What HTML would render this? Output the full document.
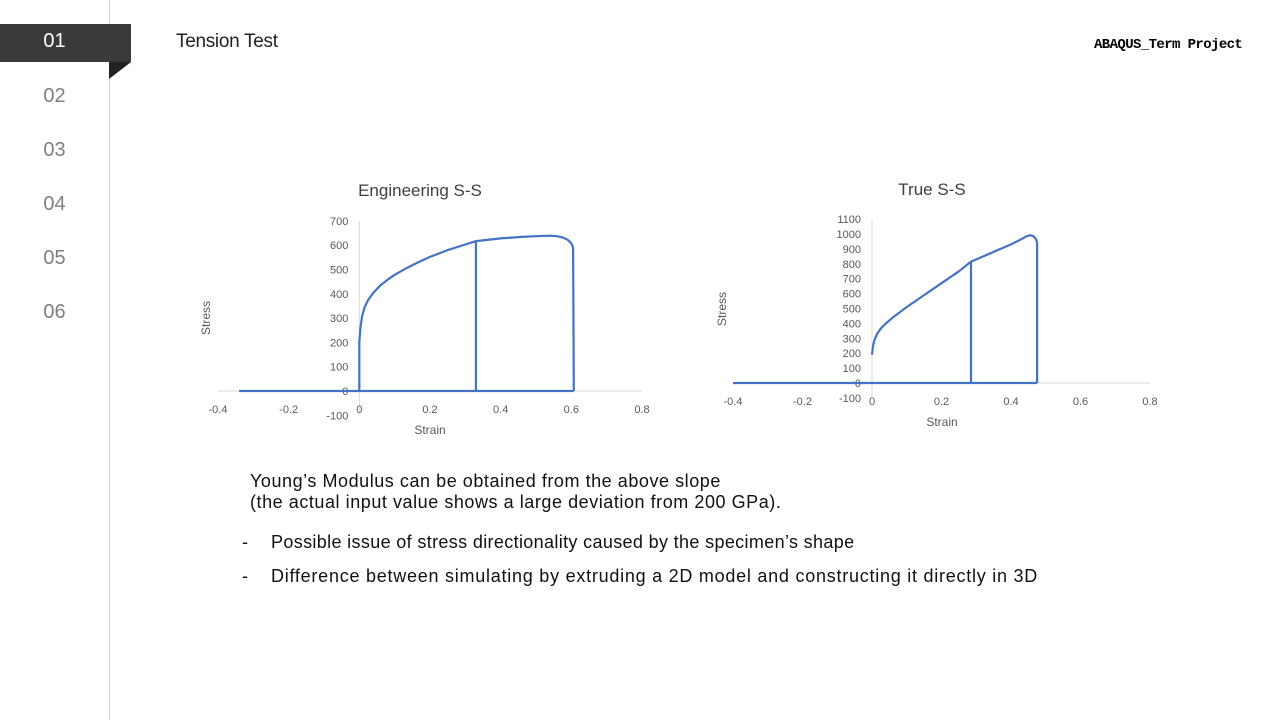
<!DOCTYPE html>
<html><head><meta charset="utf-8"><style>
body{margin:0;width:1280px;height:720px;background:#fff;position:relative;overflow:hidden;font-family:"Liberation Sans","Noto Sans CJK KR",sans-serif}
.nav{position:absolute;left:0;width:109px;text-align:center;font-size:20px;color:#7f7f7f}
.t{position:absolute;color:#000}
</style></head><body>
<div style="position:absolute;left:109px;top:0;width:1px;height:720px;background:#d9d9d9"></div>
<div style="position:absolute;left:0;top:24px;width:131px;height:38px;background:#3a3a3a"></div>
<svg style="position:absolute;left:0;top:0" width="140" height="90"><polygon points="109,62 131,62 109,79" fill="#222"/></svg>
<div class="nav" style="top:30px;color:#fff">01</div>
<div class="nav" style="top:85px">02</div>
<div class="nav" style="top:139px">03</div>
<div class="nav" style="top:193px">04</div>
<div class="nav" style="top:247px">05</div>
<div class="nav" style="top:301px">06</div>
<div class="t" style="left:176px;top:31px;font-size:19px;color:#222;letter-spacing:-0.3px">Tension Test</div>
<div class="t" style="left:1094px;top:37px;font-size:14px;font-weight:bold;font-family:'Liberation Mono',monospace;letter-spacing:-0.6px">ABAQUS_Term Project</div>
<svg id="charts" style="position:absolute;left:0;top:0" width="1280" height="460"></svg>
<div class="t" style="left:250px;top:471px;font-size:18px;line-height:21px;color:#111;letter-spacing:0.55px">Young’s Modulus can be obtained from the above slope<br>(the actual input value shows a large deviation from 200 GPa).</div>
<div class="t" style="left:242px;top:532px;font-size:18px;color:#111">-</div>
<div class="t" style="left:271px;top:532px;font-size:18px;color:#111;letter-spacing:0.35px">Possible issue of stress directionality caused by the specimen’s shape</div>
<div class="t" style="left:242px;top:566px;font-size:18px;color:#111">-</div>
<div class="t" style="left:271px;top:566px;font-size:18px;color:#111;letter-spacing:0.75px">Difference between simulating by extruding a 2D model and constructing it directly in 3D</div>
<script>
const engStrain=[-0.34,0.607,null,0,0,0.003,0.008,0.015,0.025,0.04,0.06,0.08,0.1,0.13,0.16,0.2,0.25,0.3,0.33,0.4,0.46,0.5,0.54,0.56,0.575,0.59,0.6,0.605,0.607,null,0.33,0.33];
const engStress=[0,0,null,0,200,260,310,345,375,405,435,458,478,503,525,552,580,603,617,628,634,637,639,637,632,622,608,590,0,null,617,0];
const trueStrain=[-0.4,0.475,null,0,0.003,0.008,0.015,0.025,0.04,0.06,0.08,0.1,0.15,0.2,0.25,0.285,0.35,0.4,0.43,0.445,0.455,0.465,0.472,0.475,0.475,null,0.285,0.285];
const trueStress=[0,0,null,190,250,295,330,365,400,440,475,510,590,670,750,815,880,930,965,985,992,985,965,940,0,null,815,0];
const xTicks=[-0.4,-0.2,0,0.2,0.4,0.6,0.8];
const engYTicks=[-100,0,100,200,300,400,500,600,700];
const trueYTicks=[-100,0,100,200,300,400,500,600,700,800,900,1000,1100];
const svg=document.getElementById('charts');
const NS='http://www.w3.org/2000/svg';
function mk(tag,attrs,parent){const e=document.createElementNS(NS,tag);for(const k in attrs)e.setAttribute(k,attrs[k]);(parent||svg).appendChild(e);return e;}
function chart(cfg){
  const sx=v=>cfg.x0+(v-(-0.4))/(1.2)*(cfg.x1-cfg.x0);
  const sy=v=>cfg.yZero-(v/100)*cfg.per100;
  const g=mk('g',{});
  
  
  const t=mk('text',{x:cfg.titleX,y:cfg.titleY,'font-size':17,fill:'#404040','text-anchor':'middle'},g);t.textContent=cfg.title;
  
  const ax=mk('line',{x1:cfg.x0,x2:cfg.x1,y1:sy(0),y2:sy(0),stroke:'#d9d9d9'},g);
  
  const ay=mk('line',{x1:sx(0),x2:sx(0),y1:sy(cfg.yTicks[cfg.yTicks.length-1]),y2:sy(-100),stroke:'#d9d9d9'},g);
  
  cfg.yTicks.forEach(v=>{const e=mk('text',{x:sx(0)-11,y:sy(v)+4,'font-size':11,fill:'#595959','text-anchor':'end'},g);e.textContent=v;
    });
  xTicks.forEach(v=>{const e=mk('text',{x:sx(v),y:cfg.xLabY,'font-size':11,fill:'#595959','text-anchor':'middle'},g);e.textContent=v;
    });
  const xt=mk('text',{x:cfg.xTitleX,y:cfg.xTitleY,'font-size':12,fill:'#595959','text-anchor':'middle'},g);xt.textContent='Strain';
  
  const yt=mk('text',{x:0,y:0,'font-size':12,fill:'#595959','text-anchor':'middle',transform:`translate(${cfg.yTitleX},${cfg.yTitleY}) rotate(-90)`},g);yt.textContent='Stress';
  
  let d='',pen=false;
  cfg.xs.forEach((v,i)=>{if(v===null){pen=false;return;}d+=(pen?'L':'M')+sx(v).toFixed(1)+','+sy(cfg.ys[i]).toFixed(1);pen=true;});
  const p=mk('path',{d:d,fill:'none',stroke:'#4472c4','stroke-width':2.2,'stroke-linejoin':'round'},g);
  
}
chart({name:'engineering-chart',title:'Engineering S-S',titleX:420,titleY:196,x0:218,x1:642,yZero:391,per100:24.3,yTicks:engYTicks,xLabY:413,xTitleX:430,xTitleY:434,yTitleX:210,yTitleY:318,xs:engStrain,ys:engStress});
chart({name:'true-chart',title:'True S-S',titleX:932,titleY:195,x0:733,x1:1150,yZero:383,per100:14.9,yTicks:trueYTicks,xLabY:405,xTitleX:942,xTitleY:426,yTitleX:726,yTitleY:309,xs:trueStrain,ys:trueStress});
</script>
</body></html>
